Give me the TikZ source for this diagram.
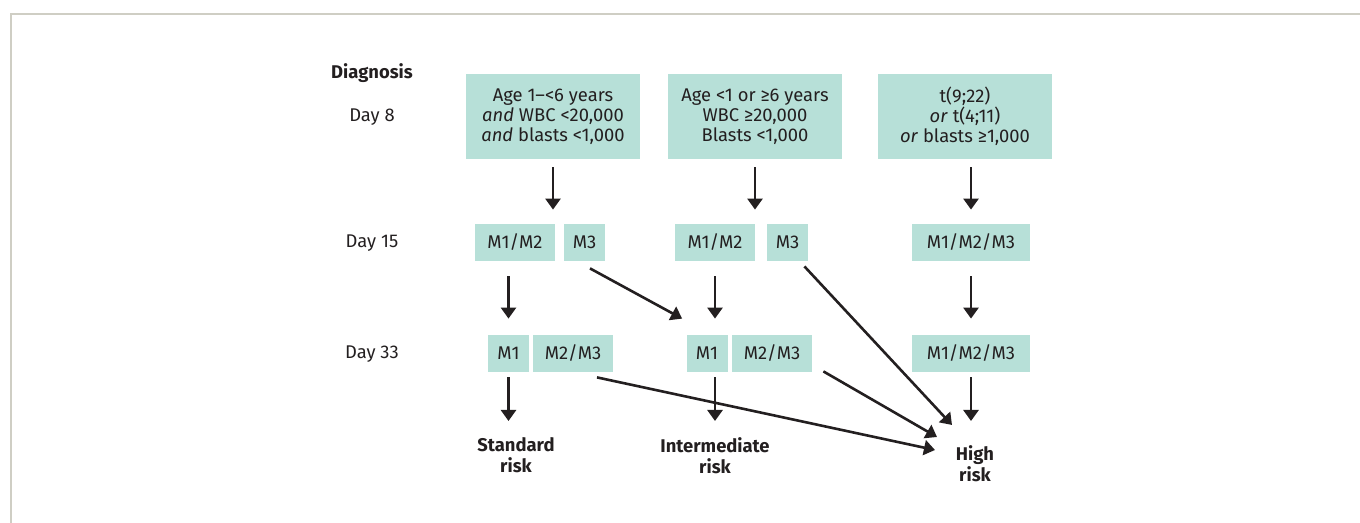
\documentclass[tikz,border=0pt]{standalone}
\usepackage{fontspec}
\setmainfont{Fira Sans}
\usepackage{tikz}
\usetikzlibrary{arrows.meta}
\definecolor{boxfill}{RGB}{183,224,216}
\definecolor{ink}{RGB}{35,31,32}
\definecolor{framegray}{RGB}{207,206,196}
\tikzset{
  crit/.style={fill=boxfill, text=ink, inner sep=0pt, minimum width=87pt,
    minimum height=42.5pt, align=center, font=\fontsize{9.2}{10}\selectfont},
  mbox/.style={fill=boxfill, text=ink, inner sep=0pt, minimum height=18.5pt,
    font=\fontsize{9.2}{10}\selectfont},
  daylab/.style={text=ink, inner sep=0pt, font=\fontsize{9.2}{10}\selectfont},
  risk/.style={text=ink, inner sep=0pt, align=center, anchor=north,
    font=\bfseries\fontsize{9.2}{10.5}\selectfont},
  arr/.style={draw=ink, line width=1.3pt, -{Triangle[length=5.5pt,width=7.5pt]}}
}

\begin{document}
\begin{tikzpicture}[x=0.5pt,y=-0.5pt]
    \useasboundingbox (0,0) rectangle (1360,523);
    % Draw the frame
    \draw[framegray, line width=1pt] (11,523) -- (11,14) -- (1360,14);
    % Row labels
    \node[daylab, font=\bfseries\fontsize{9.2}{10}\selectfont] (labdiag) at (372,73) {Diagnosis};
    \node[daylab] (lab8) at (372,117) {Day 8};
    \node[daylab] (lab15) at (372,243) {Day 15};
    \node[daylab] (lab33) at (372,354) {Day 33};
    % Day 8 criteria
    \node[crit] (stdcrit) at (553,116.5) {Age 1--<6 years\\\textit{and} WBC <20,000\\\textit{and} blasts <1,000};
    \node[crit] (intcrit) at (755,116.5) {Age <1 or ≥6 years\\WBC ≥20,000\\Blasts <1,000};
    \node[crit] (highcrit) at (965,116.5) {t(9;22)\\\textit{or} t(4;11)\\\textit{or} blasts ≥1,000};
    % Day 15 marrow
    \foreach \n/\x/\w/\t in {s15a/515/40/M1\slash M2, s15b/584.5/20.5/M3,
        i15a/715/40/M1\slash M2, i15b/787.5/20.5/M3, h15/971/59/M1\slash M2\slash M3}{
      \node[mbox, minimum width=\w pt] (\n) at (\x,242.5) {\t};
    }
    % Day 33 marrow
    \foreach \n/\x/\w/\t in {s33a/508.5/20.5/M1, s33b/573/40/M2\slash M3,
        i33a/707/20.5/M1, i33b/772/40/M2\slash M3, h33/971/59/M1\slash M2\slash M3}{
      \node[mbox, minimum width=\w pt] (\n) at (\x,353.5) {\t};
    }
    % Risk groups
    \node[risk] (stdrisk) at (516,437) {Standard\\risk};
    \node[risk] (intrisk) at (715,437) {Intermediate\\risk};
    \node[risk] (highrisk) at (975,445) {High\\risk};
    % Draw the arrows
    \foreach \a/\b in {stdcrit/s15a, intcrit/i15a}{
      \draw[arr, shorten <=4pt, shorten >=7pt] (\a.south) -- (\a.south |- \b.north);
    }
    \draw[arr, shorten <=4pt, shorten >=7pt] (h15.north |- highcrit.south) -- (h15.north);
    \draw[arr, shorten <=7.5pt, shorten >=8pt] (s33a.north |- s15a.south) -- (s33a.north);
    \draw[arr, shorten <=7.5pt, shorten >=8pt] (i15a.south) -- (i15a.south |- i33a.north);
    \draw[arr, shorten <=7.5pt, shorten >=8pt] (h15.south) -- (h33.north);
    \draw[arr, shorten <=2.5pt, shorten >=8pt] (s33a.south) -- (s33a.south |- stdrisk.north);
    \draw[arr, shorten <=2.5pt, shorten >=8pt] (i15a.south |- i33a.south) -- (i15a.south |- intrisk.north);
    \draw[arr, shorten <=2.5pt, shorten >=12pt] (h33.south) -- (h33.south |- highrisk.north);
    \draw[arr] ([shift={(5.5,7)}]s15b.south) -- ([shift={(-4,-16)}]i33a.north west);
    \draw[arr] ([shift={(-4,5)}]i15b.south east) -- ([shift={(-23,-20)}]highrisk.north);
    \draw[arr] ([shift={(24,5)}]s33b.south) -- ([shift={(-40,5)}]highrisk.north);
    \draw[arr] ([shift={(11,-1)}]i33b.south east) -- ([shift={(-38,-8)}]highrisk.north);
\end{tikzpicture}
\end{document}
